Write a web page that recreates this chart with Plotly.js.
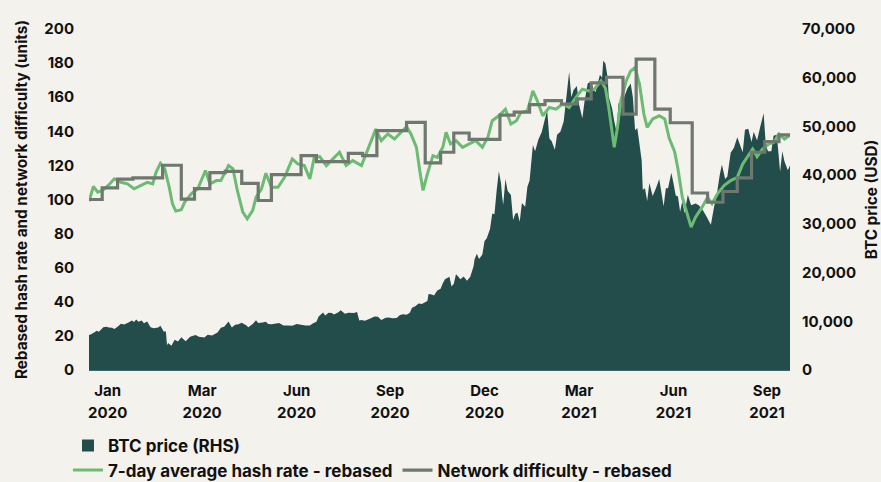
<!DOCTYPE html>
<html>
<head>
<meta charset="utf-8">
<script src="https://cdn.plot.ly/plotly-3.0.1.min.js"></script>
<style>
  html, body { margin: 0; padding: 0; background: #f4f2ed; }
  #plot { width: 881px; height: 482px; }
</style>
</head>
<body>
<div id="plot"></div>
<script>
// BTC price (USD)
var priceDates = [
  "2020-01-01","2020-01-03","2020-01-06","2020-01-08","2020-01-10","2020-01-14","2020-01-17","2020-01-19","2020-01-22","2020-01-24",
  "2020-01-27","2020-01-30","2020-02-02","2020-02-06","2020-02-09","2020-02-11","2020-02-13","2020-02-15","2020-02-18","2020-02-20",
  "2020-02-23","2020-02-26","2020-02-29","2020-03-04","2020-03-06","2020-03-09","2020-03-11","2020-03-12","2020-03-13","2020-03-16",
  "2020-03-19","2020-03-22","2020-03-25","2020-03-29","2020-04-02","2020-04-07","2020-04-10","2020-04-15","2020-04-18","2020-04-22",
  "2020-04-27","2020-04-30","2020-05-03","2020-05-07","2020-05-10","2020-05-13","2020-05-16","2020-05-19","2020-05-23","2020-05-25",
  "2020-05-29","2020-06-01","2020-06-03","2020-06-07","2020-06-10","2020-06-12","2020-06-15","2020-06-22","2020-06-26","2020-06-30",
  "2020-07-04","2020-07-08","2020-07-12","2020-07-16","2020-07-20","2020-07-23","2020-07-26","2020-07-28","2020-08-01","2020-08-03",
  "2020-08-06","2020-08-09","2020-08-11","2020-08-15","2020-08-17","2020-08-21","2020-08-24","2020-08-29","2020-09-01","2020-09-03",
  "2020-09-05","2020-09-08","2020-09-12","2020-09-17","2020-09-20","2020-09-23","2020-09-27","2020-09-30","2020-10-03","2020-10-07",
  "2020-10-10","2020-10-13","2020-10-16","2020-10-19","2020-10-21","2020-10-24","2020-10-27","2020-10-30","2020-11-01","2020-11-04",
  "2020-11-05","2020-11-08","2020-11-10","2020-11-13","2020-11-16","2020-11-18","2020-11-20","2020-11-24","2020-11-26","2020-11-28",
  "2020-11-30","2020-12-02","2020-12-04","2020-12-07","2020-12-10","2020-12-13","2020-12-16","2020-12-17","2020-12-19","2020-12-21",
  "2020-12-24","2020-12-26","2020-12-28","2020-12-31","2021-01-02","2021-01-04","2021-01-06","2021-01-08","2021-01-10","2021-01-11",
  "2021-01-12","2021-01-14","2021-01-16","2021-01-19","2021-01-21","2021-01-23","2021-01-25","2021-01-27","2021-01-29","2021-02-01",
  "2021-02-03","2021-02-05","2021-02-08","2021-02-10","2021-02-13","2021-02-16","2021-02-19","2021-02-21","2021-02-23","2021-02-25",
  "2021-02-28","2021-03-02","2021-03-05","2021-03-08","2021-03-10","2021-03-13","2021-03-15","2021-03-17","2021-03-20","2021-03-22",
  "2021-03-25","2021-03-27","2021-03-30","2021-04-02","2021-04-04","2021-04-06","2021-04-10","2021-04-12","2021-04-13","2021-04-15",
  "2021-04-17","2021-04-18","2021-04-21","2021-04-23","2021-04-25","2021-04-27","2021-04-29","2021-05-03","2021-05-05","2021-05-08",
  "2021-05-10","2021-05-12","2021-05-14","2021-05-16","2021-05-18","2021-05-19","2021-05-21","2021-05-23","2021-05-25","2021-05-28",
  "2021-05-31","2021-06-03","2021-06-07","2021-06-09","2021-06-11","2021-06-14","2021-06-16","2021-06-18","2021-06-20","2021-06-22",
  "2021-06-24","2021-06-26","2021-06-29","2021-07-02","2021-07-06","2021-07-09","2021-07-13","2021-07-16","2021-07-20","2021-07-23",
  "2021-07-25","2021-07-28","2021-07-30","2021-08-02","2021-08-04","2021-08-07","2021-08-10","2021-08-13","2021-08-16","2021-08-18",
  "2021-08-20","2021-08-23","2021-08-26","2021-08-28","2021-08-31","2021-09-03","2021-09-06","2021-09-08","2021-09-10","2021-09-13",
  "2021-09-15","2021-09-18","2021-09-21","2021-09-23","2021-09-25","2021-09-28","2021-09-30"
];
var priceUsd = [
  7200,7350,7750,8050,7850,8800,8900,8700,8650,8400,
  8900,9500,9350,9750,10150,9850,10350,9900,10150,9600,
  9950,8800,8550,8750,9100,7900,7900,5100,5550,5000,
  6200,5850,6700,5900,6800,7200,6850,6650,7250,7100,
  7700,8650,8900,9950,8750,9300,9400,9700,9200,8800,
  9450,10200,9650,9750,9900,9450,9400,9650,9150,9150,
  9100,9450,9300,9150,9150,9600,9900,11000,11800,11200,
  11750,11700,11400,11850,12250,11550,11750,11700,11900,10150,
  10250,10100,10450,11000,10950,10250,10750,10800,10600,10650,
  11300,11450,11350,11750,12800,13100,13650,13550,13800,14150,
  15600,15500,15300,16300,16700,17800,18650,19150,17150,17700,
  19650,19200,18650,19200,18300,19150,21300,22800,23850,22800,
  23700,26500,27050,28950,32150,31950,36800,40800,38350,35550,
  33900,39200,36800,35900,30800,32100,32300,30450,34300,33500,
  37600,38900,46200,44900,47300,48800,51600,53300,47500,47000,
  45200,48300,48900,51000,55000,61200,56000,57500,58300,54500,
  51700,55100,58900,59000,57700,57000,60600,60000,63500,62900,
  60100,56100,53800,51100,49000,54900,53600,56600,57800,58800,
  56000,49200,49700,46400,43000,37000,37300,34700,38400,35700,
  37300,39200,33600,37300,37300,40500,38300,35800,35600,32500,
  34700,32200,36000,33800,34200,33800,32700,31500,29800,33600,
  35400,40000,42200,39200,39700,44600,45600,47800,45900,44700,
  49300,49500,46800,48900,47100,50000,52700,46100,44900,44900,
  48100,48300,40700,44900,42800,41000,42000
];

// 7-day average hash rate, rebased (units)
var hashDates = [
  "2020-01-01","2020-01-05","2020-01-09","2020-01-14","2020-01-20","2020-01-24","2020-01-30","2020-02-05","2020-02-11","2020-02-17",
  "2020-02-23","2020-02-28","2020-03-02","2020-03-06","2020-03-10","2020-03-14","2020-03-17","2020-03-20","2020-03-25","2020-03-28",
  "2020-04-03","2020-04-09","2020-04-14","2020-04-16","2020-04-20","2020-04-26","2020-04-30","2020-05-07","2020-05-11","2020-05-15",
  "2020-05-20","2020-05-24","2020-05-29","2020-06-01","2020-06-06","2020-06-10","2020-06-15","2020-06-21","2020-06-27","2020-07-04",
  "2020-07-09","2020-07-15","2020-07-20","2020-07-24","2020-07-29","2020-08-04","2020-08-10","2020-08-16","2020-08-22","2020-08-28",
  "2020-09-05","2020-09-09","2020-09-14","2020-09-18","2020-09-23","2020-09-29","2020-10-05","2020-10-11","2020-10-16","2020-10-20",
  "2020-10-25","2020-10-28","2020-10-31","2020-11-04","2020-11-09","2020-11-13","2020-11-18","2020-11-21","2020-11-25","2020-11-30",
  "2020-12-06","2020-12-12","2020-12-18","2020-12-24","2020-12-29","2021-01-02","2021-01-08","2021-01-14","2021-01-19","2021-01-24",
  "2021-01-28","2021-02-03","2021-02-08","2021-02-12","2021-02-17","2021-02-23","2021-03-01","2021-03-07","2021-03-13","2021-03-19",
  "2021-03-25","2021-03-31","2021-04-05","2021-04-11","2021-04-15","2021-04-18","2021-04-21","2021-04-23","2021-04-26","2021-04-29",
  "2021-05-04","2021-05-08","2021-05-12","2021-05-16","2021-05-20","2021-05-23","2021-05-28","2021-06-03","2021-06-08","2021-06-12",
  "2021-06-17","2021-06-20","2021-06-24","2021-06-29","2021-07-02","2021-07-06","2021-07-12","2021-07-17","2021-07-21","2021-07-26",
  "2021-08-01","2021-08-07","2021-08-13","2021-08-18","2021-08-22","2021-08-27","2021-08-31","2021-09-05","2021-09-11","2021-09-15",
  "2021-09-20","2021-09-25","2021-09-30"
];
var hashUnits = [
  99,107.6,104.3,105.7,109.2,112.1,110.1,109.2,106.3,108.2,
  110.1,109.2,116,121.2,118,107.2,97.5,93.2,94,98.4,
  103.3,106.3,114,117,109.2,111.1,111.1,119.9,118,105.3,
  92.6,88.7,93.6,101.3,106.3,115.4,107.2,107.2,113,123.8,
  120.9,119.9,112.1,124.7,125.2,119.9,123.8,127.7,119.9,122.8,
  119.9,126.7,135.5,141.3,134.5,138.4,135.5,139.4,142.7,138.4,
  130.6,117,105.3,115,125.7,124.7,130.6,139.4,132.6,134.5,
  130.6,132.6,134.5,130.6,136.5,146.2,149.1,153,144.3,146.2,
  151,152,163.7,157.9,149.1,154,153,156,154,159.8,
  164.7,163.7,164.7,169.6,165.3,154,138.4,130.6,142.3,157.9,
  169.6,175.4,177.4,167.7,150.1,142.3,147.2,149.1,147.2,136,
  128,118,101.3,89.6,83.8,89.6,95.5,101.3,97.5,103.3,
  108.2,111.1,113,120.9,124.7,129.6,125.1,129.6,132.6,133.5,
  138.4,135.5,137.8
];

// Network difficulty, rebased (units), one value per adjustment
var diffDates = [
  "2020-01-01","2020-01-13","2020-01-27","2020-02-10","2020-03-08","2020-03-25","2020-04-06","2020-04-20","2020-05-04","2020-05-19",
  "2020-06-03","2020-06-15","2020-07-12","2020-07-26","2020-08-24","2020-09-06","2020-09-19","2020-10-16","2020-11-02","2020-11-16",
  "2020-11-28","2020-12-12","2021-01-09","2021-01-22","2021-02-05","2021-02-19","2021-03-06","2021-03-20","2021-04-02","2021-04-16",
  "2021-05-01","2021-05-13","2021-05-30","2021-06-13","2021-07-03","2021-07-17","2021-07-31","2021-08-13","2021-08-26","2021-09-07",
  "2021-09-20","2021-09-30"
];
var diffUnits = [
  100,106.8,111.9,112.7,120.1,100.2,106.4,115.8,116.5,109.5,
  99.4,114.6,125.7,122.2,127,125.7,140.4,145.2,121.5,127.7,
  139,135.3,149.5,151.2,155.7,158,156,159,168.4,171.7,
  150.1,182.3,153,145,103.8,98.4,104.7,112.7,127.7,134,
  137.9,137.9
];

// x axis labels: month line and year line
var tickDates = ["2020-01-18","2020-04-13","2020-07-08","2020-10-01","2020-12-26","2021-03-22","2021-06-16","2021-09-09"];
var monthLabels = ["Jan","Mar","Jun","Sep","Dec","Mar","Jun","Sep"];
var yearLabels = ["2020","2020","2020","2020","2020","2021","2021","2021"];

var font = { family: "Inter, 'DejaVu Sans', sans-serif", size: 15, color: "#111111", weight: 700 };
var titleFont = { family: font.family, size: 15.3, color: "#111111", weight: 700 };
var legendFont = { family: font.family, size: 17, color: "#111111", weight: 700 };

var btcArea = {
  x: priceDates,
  y: priceUsd,
  type: "scatter",
  mode: "none",
  fill: "tozeroy",
  fillcolor: "#224d4b",
  yaxis: "y",
  showlegend: false,
  hoverinfo: "skip"
};

// legend swatch for the area
var btcKey = {
  x: [null],
  y: [null],
  type: "scatter",
  mode: "markers",
  name: "BTC price (RHS)",
  marker: { symbol: "square", size: 12, color: "#224d4b" },
  legend: "legend"
};

var hashLine = {
  x: hashDates,
  y: hashUnits,
  type: "scatter",
  mode: "lines",
  name: "7-day average hash rate - rebased",
  line: { color: "#6cbb72", width: 3 },
  yaxis: "y2",
  legend: "legend2"
};

var diffLine = {
  x: diffDates,
  y: diffUnits,
  type: "scatter",
  mode: "lines",
  name: "Network difficulty - rebased",
  line: { color: "#6e786f", width: 3.2, shape: "hv" },
  yaxis: "y2",
  legend: "legend2"
};

// empty trace so the year axis gets drawn
var yearAxisHolder = {
  x: [null],
  y: [null],
  type: "scatter",
  mode: "markers",
  xaxis: "x2",
  yaxis: "y",
  showlegend: false,
  hoverinfo: "skip"
};

var layout = {
  width: 881,
  height: 482,
  paper_bgcolor: "#f4f2ed",
  plot_bgcolor: "#f4f2ed",
  font: font,
  margin: { l: 89, r: 91, t: 29, b: 112, autoexpand: false },
  xaxis: {
    type: "date",
    range: ["2020-01-01", "2021-09-30"],
    tickvals: tickDates,
    ticktext: monthLabels,
    showgrid: false,
    zeroline: false,
    showline: true,
    linecolor: "#3d6a66",
    linewidth: 1,
    ticks: "",
    ticklabelstandoff: 7,
    tickfont: font
  },
  xaxis2: {
    type: "date",
    overlaying: "x",
    side: "bottom",
    anchor: "y",
    range: ["2020-01-01", "2021-09-30"],
    tickvals: tickDates,
    ticktext: yearLabels,
    showgrid: false,
    zeroline: false,
    showline: false,
    ticks: "",
    ticklabelstandoff: 32,
    tickfont: font
  },
  yaxis: {
    side: "right",
    range: [0, 70000],
    tickvals: [0, 10000, 20000, 30000, 40000, 50000, 60000, 70000],
    tickformat: ",d",
    showgrid: false,
    zeroline: false,
    ticks: "",
    ticklabelstandoff: 11,
    tickfont: font,
    title: { text: "BTC price (USD)", font: titleFont, standoff: 10 }
  },
  yaxis2: {
    side: "left",
    overlaying: "y",
    range: [0, 200],
    tickvals: [0, 20, 40, 60, 80, 100, 120, 140, 160, 180, 200],
    showgrid: false,
    zeroline: false,
    ticks: "",
    ticklabelstandoff: 14,
    tickfont: font,
    title: { text: "Rebased hash rate and network difficulty (units)", font: titleFont, standoff: 12 }
  },
  legend: {
    orientation: "h",
    x: -0.03, xanchor: "left",
    y: -0.17, yanchor: "top",
    bgcolor: "rgba(0,0,0,0)",
    font: legendFont,
    itemwidth: 30
  },
  legend2: {
    orientation: "h",
    x: -0.03, xanchor: "left",
    y: -0.242, yanchor: "top",
    bgcolor: "rgba(0,0,0,0)",
    font: legendFont,
    itemwidth: 30
  },
  showlegend: true
};

Plotly.newPlot("plot", [btcArea, btcKey, hashLine, diffLine, yearAxisHolder], layout, { displayModeBar: false, staticPlot: true });
</script>
</body>
</html>
